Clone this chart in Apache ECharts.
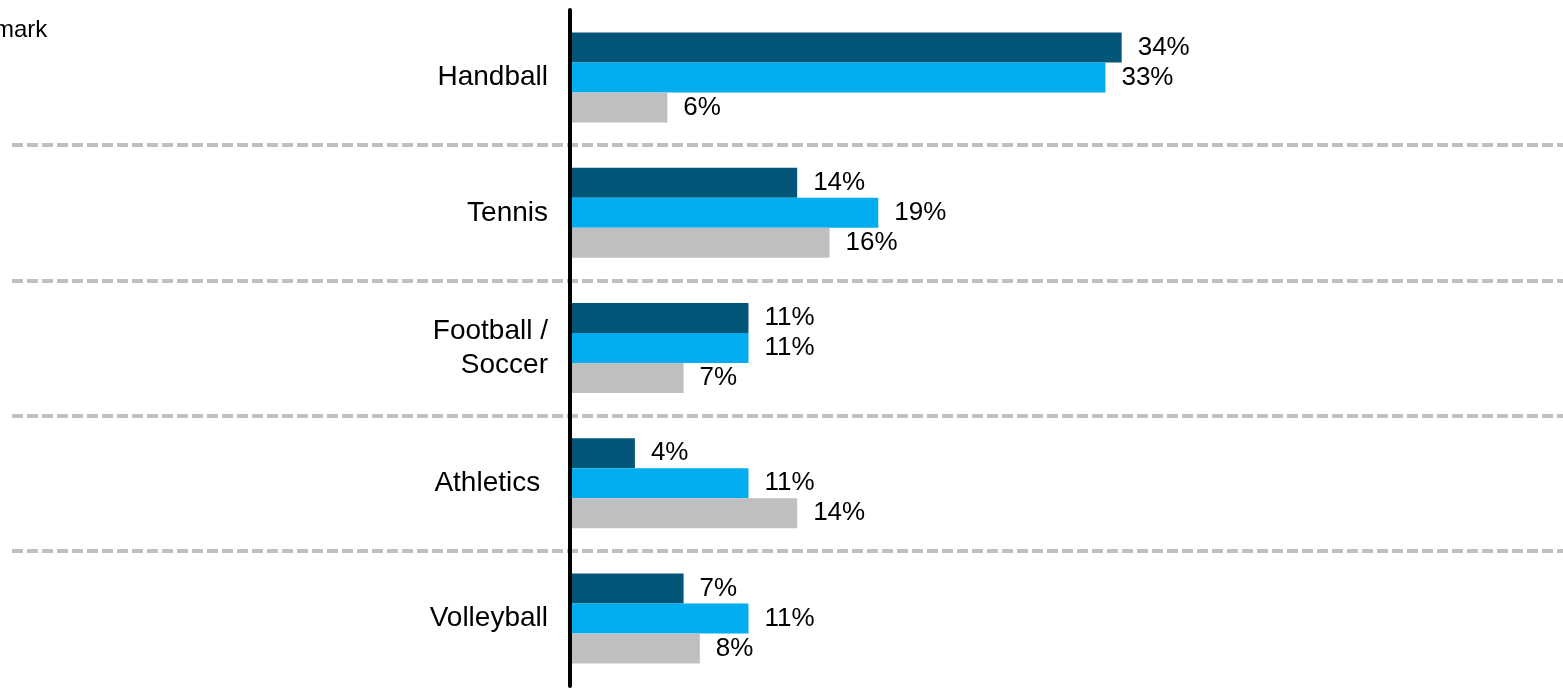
<!DOCTYPE html>
<html>
<head>
<meta charset="utf-8">
<script src="https://cdn.jsdelivr.net/npm/echarts@6/dist/echarts.min.js"></script>
<style>
  html, body { margin: 0; padding: 0; background: #fff; }
  #chart1 { width: 1563px; height: 691px; }
</style>
</head>
<body>
<div id="chart1"></div>
<script>
var categories = ['Handball', 'Tennis', 'Football /\nSoccer', 'Athletics ', 'Volleyball'];
var seriesDark = [34, 14, 11, 4, 7];
var seriesBlue = [33, 19, 11, 11, 11];
var seriesGrey = [6, 16, 7, 14, 8];

var myChart1 = echarts.init(document.getElementById('chart1'));

function barSeries(name, data, color) {
    return {
        name: name,
        type: 'bar',
        xAxisIndex: 0,
        yAxisIndex: 0,
        data: data,
        barWidth: 30,
        barGap: '0%',
        itemStyle: { color: color },
        label: {
            show: true,
            position: 'right',
            distance: 16,
            formatter: '{c}%',
            color: '#000',
            fontFamily: 'Liberation Sans, Arial',
            fontSize: 26
        }
    };
}

var option = {
    animation: false,
    backgroundColor: '#fff',
    // legend text cut off at the left edge, as in the original
    graphic: [{
        type: 'text',
        left: -50,
        top: 18,
        style: {
            text: 'Denmark',
            fill: '#000',
            font: '24px "Liberation Sans", Arial'
        }
    }],
    grid: [
        // bars
        { left: 570, right: 0, top: 10, bottom: 5, containLabel: false, outerBoundsMode: 'none', z: 3 },
        // full width separators
        { left: 12, right: 0, top: 10, bottom: 5, containLabel: false, outerBoundsMode: 'none', z: 1 }
    ],
    xAxis: [
        { type: 'value', gridIndex: 0, min: 0, max: 61.2, show: false },
        { type: 'value', gridIndex: 1, min: 0, max: 1, show: false }
    ],
    yAxis: [
        {
            type: 'category',
            gridIndex: 0,
            data: categories,
            inverse: true,
            z: 5,
            axisLine: {
                show: true,
                lineStyle: { color: '#000', width: 4 }
            },
            axisTick: { show: false },
            axisLabel: {
                margin: 22,
                color: '#000',
                fontFamily: 'Liberation Sans, Arial',
                fontSize: 28,
                lineHeight: 34,
                align: 'right'
            },
            splitLine: { show: false }
        },
        {
            type: 'category',
            gridIndex: 1,
            data: categories,
            inverse: true,
            z: 1,
            axisLine: { show: false },
            axisTick: { show: false },
            axisLabel: { show: false },
            splitLine: {
                show: true,
                showMinLine: false,
                showMaxLine: false,
                lineStyle: { color: '#BFBFBF', width: 4, type: [11, 4] }
            }
        }
    ],
    series: [
        barSeries('Series 1', seriesDark, '#045678'),
        barSeries('Series 2', seriesBlue, '#00AEEF'),
        barSeries('Series 3', seriesGrey, '#BFBFBF')
    ]
};

myChart1.setOption(option);
</script>
</body>
</html>
